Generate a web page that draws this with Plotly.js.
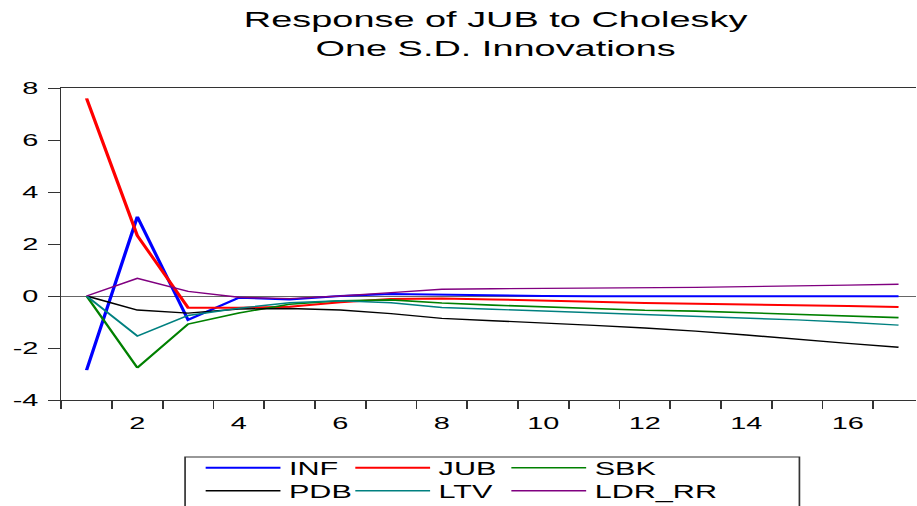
<!DOCTYPE html>
<html>
<head>
<meta charset="utf-8">
<script src="https://cdn.plot.ly/plotly-3.0.1.min.js"></script>
<style>
  html, body { margin: 0; padding: 0; overflow: hidden; background: #fff; }
  #wrap { transform: scaleX(1.7); transform-origin: 0 0; }
</style>
</head>
<body>
<div id="wrap"><div id="chart"></div></div>
<script>
// Periods (horizon)
const periods = [1, 2, 3, 4, 5, 6, 7, 8, 9, 10, 11, 12, 13, 14, 15, 16, 17];
const xTickLabels = ['2', '4', '6', '8', '10', '12', '14', '16'];
const yTickLabels = ['-4', '-2', '0', '2', '4', '6', '8'];

// Responses of JUB
const INF    = [-2.85, 3.05, -0.92, -0.07, -0.13, 0.00, 0.08, 0.05, 0.02, 0.00, -0.01, -0.01, -0.01, -0.01, -0.01, -0.01, -0.01];
const JUB    = [7.60, 2.32, -0.45, -0.45, -0.41, -0.24, -0.12, -0.10, -0.13, -0.18, -0.23, -0.27, -0.30, -0.32, -0.36, -0.38, -0.42];
const SBK    = [0.00, -2.76, -1.08, -0.65, -0.32, -0.18, -0.15, -0.27, -0.35, -0.42, -0.50, -0.55, -0.58, -0.64, -0.70, -0.77, -0.83];
const PDB    = [0.00, -0.54, -0.66, -0.50, -0.48, -0.54, -0.68, -0.86, -0.95, -1.03, -1.13, -1.23, -1.35, -1.50, -1.67, -1.82, -1.97];
const LTV    = [0.00, -1.54, -0.75, -0.47, -0.26, -0.18, -0.26, -0.44, -0.51, -0.58, -0.64, -0.70, -0.77, -0.85, -0.92, -1.01, -1.12];
const LDR_RR = [0.00, 0.68, 0.18, -0.05, -0.10, 0.00, 0.13, 0.26, 0.28, 0.29, 0.30, 0.32, 0.33, 0.36, 0.40, 0.42, 0.45];

const seriesNames  = ['INF', 'JUB', 'SBK', 'PDB', 'LTV', 'LDR_RR'];
const seriesValues = [INF, JUB, SBK, PDB, LTV, LDR_RR];
const seriesColors = ['#0000FF', '#FF0000', '#008000', '#000000', '#008080', '#800080'];
const seriesWidths = [2, 2, 1.6, 1.4, 1.4, 1.4];

const FONT = 'Liberation Sans, Arial, Helvetica, sans-serif';
const S = 1.7;
const W = 917 / S;

// one legend per entry, laid out as a 3 x 2 grid in paper coordinates
const legendIds = ['legend', 'legend2', 'legend3', 'legend4', 'legend5', 'legend6'];
const colX = [0.1590, 0.3340, 0.5165];
const rowY = [-0.218, -0.2917];

const traces = seriesNames.map((name, i) => ({
  type: 'scatter',
  mode: 'lines',
  name: name,
  x: periods,
  y: seriesValues[i],
  line: { color: seriesColors[i], width: seriesWidths[i] },
  legend: legendIds[i],
  hoverinfo: 'skip'
}));

const layout = {
  width: W,
  height: 506,
  margin: { l: 61 / S, r: 0, t: 88, b: 106, pad: 0, autoexpand: false },
  paper_bgcolor: '#fff',
  plot_bgcolor: '#fff',
  font: { family: FONT, size: 17, color: '#000' },
  title: {
    text: 'Response of JUB to Cholesky<br>One S.D. Innovations',
    font: { family: FONT, size: 22.3, color: '#000' },
    xref: 'paper', x: 0.508, xanchor: 'center',
    yref: 'container', y: 0.946, yanchor: 'top'
  },
  showlegend: true,
  xaxis: {
    range: [0.5, 17.35],
    tickmode: 'array',
    tickvals: xTickLabels.map(Number),
    ticktext: xTickLabels,
    ticks: '',
    ticklabelstandoff: 8,
    showgrid: false,
    zeroline: false,
    showline: true,
    linecolor: '#333',
    linewidth: 1,
    mirror: true,
    minor: { tick0: 0.5, dtick: 1, ticks: 'outside', ticklen: 8, tickcolor: '#333', tickwidth: 1, showgrid: false },
    tickfont: { family: FONT, size: 17, color: '#000' },
    fixedrange: true
  },
  yaxis: {
    range: [-4, 8],
    tickmode: 'array',
    tickvals: yTickLabels.map(Number),
    ticktext: yTickLabels,
    ticks: 'outside',
    ticklen: 7,
    tickcolor: '#333',
    tickwidth: 1,
    ticklabelstandoff: 2,
    showgrid: false,
    zeroline: true,
    zerolinecolor: '#666',
    zerolinewidth: 1,
    showline: true,
    linecolor: '#333',
    linewidth: 1,
    mirror: false,
    tickfont: { family: FONT, size: 17, color: '#000' },
    fixedrange: true
  },
  shapes: [{
    type: 'rect', xref: 'paper', yref: 'paper',
    x0: (185 - 61) / 856, x1: (800 - 61) / 856,
    y0: -0.36, y1: -0.1827,
    line: { color: '#333', width: 1 },
    fillcolor: 'rgba(0,0,0,0)',
    layer: 'above'
  }]
};

legendIds.forEach((id, i) => {
  layout[id] = {
    orientation: 'v',
    x: colX[i % 3],
    xanchor: 'left',
    y: rowY[Math.floor(i / 3)],
    yanchor: 'middle',
    itemwidth: 44,
    font: { family: FONT, size: 18, color: '#000' },
    bgcolor: 'rgba(0,0,0,0)',
    borderwidth: 0,
    itemclick: false,
    itemdoubleclick: false
  };
});

Plotly.newPlot('chart', traces, layout, { displayModeBar: false, staticPlot: true });
</script>
</body>
</html>
